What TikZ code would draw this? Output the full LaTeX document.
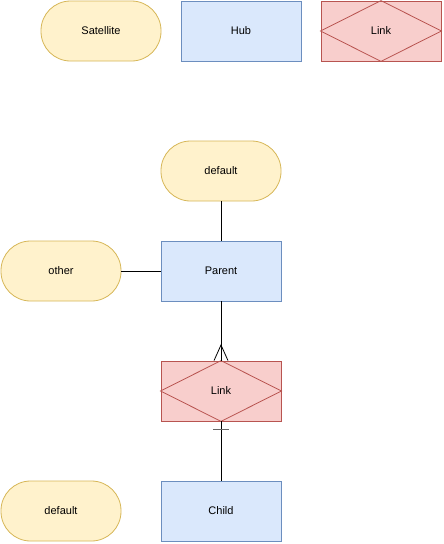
\documentclass[tikz,border=0pt]{standalone}
\usepackage{fontspec}
\setmainfont{Liberation Sans}
\definecolor{satfill}{HTML}{FFF2CC}
\definecolor{satdraw}{HTML}{D6B656}
\definecolor{hubfill}{HTML}{DAE8FC}
\definecolor{hubdraw}{HTML}{6C8EBF}
\definecolor{linkfill}{HTML}{F8CECC}
\definecolor{linkdraw}{HTML}{B85450}
\begin{document}
\begin{tikzpicture}[x=1pt,y=-1pt,
  every node/.style={font=\fontsize{11}{13}\selectfont},
  sat/.style={draw=satdraw,fill=satfill,rounded corners=29.5pt,minimum width=120pt,minimum height=60pt,inner sep=0pt,line width=0.8pt},
  hub/.style={draw=hubdraw,fill=hubfill,minimum width=120pt,minimum height=60pt,inner sep=0pt,line width=0.8pt},
  lnk/.style={draw=linkdraw,fill=linkfill,minimum width=120pt,minimum height=60pt,inner sep=0pt,line width=0.8pt},
  dia/.style={draw=linkdraw,line width=0.8pt},
  conn/.style={draw=black,line width=0.8pt}]
\useasboundingbox (0,0) rectangle (444,544);
\node[sat] (sat) at (101,31) {Satellite};
\node[hub] (hub) at (241,31) {Hub};
\node[lnk] (lnk0) at (381,31) {};
\draw[dia] (lnk0.north) -- (lnk0.east) -- (lnk0.south) -- (lnk0.west) -- cycle;
\node (lnk0t) at (381,31) {Link};
\node[sat] (deftop) at (221,171) {default};
\node[hub] (parent) at (221,271) {Parent};
\node[sat] (other) at (61,271) {other};
\node[lnk] (link) at (221,391) {};
\draw[dia] (link.north) -- (link.east) -- (link.south) -- (link.west) -- cycle;
\node (linkt) at (221,391) {Link};
\node[hub] (child) at (221,511) {Child};
\node[sat] (defbot) at (61,511) {default};
\draw[conn] (deftop) -- (parent);
\draw[conn] (other) -- (parent);
\draw[conn] (parent) -- (link);
\draw[conn] (link) -- (child);
\coordinate (cf) at (221,345);
\draw[conn] ([xshift=-7pt]link.north) -- (cf) -- ([xshift=7pt]link.north);
\draw[draw=black!60,line width=1pt] (213,429) -- (229,429);
\end{tikzpicture}
\end{document}
